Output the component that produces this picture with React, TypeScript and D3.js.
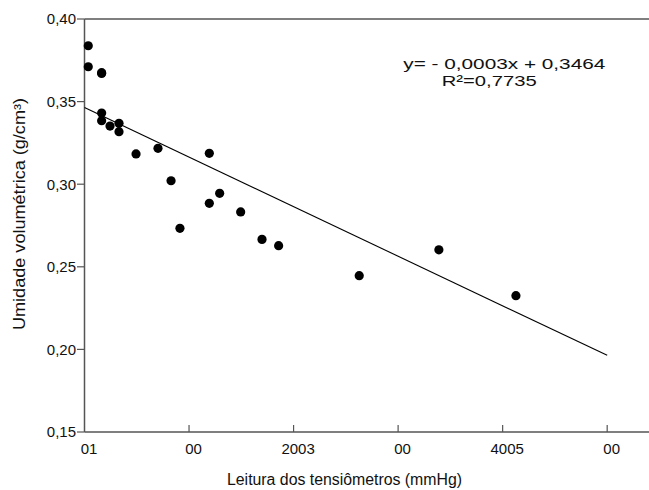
import React, { useEffect, useRef } from 'react';
import * as d3 from 'd3';

// leituras do tensiômetro (mmHg) e umidade volumétrica
const leituras = [3.6, 3.6, 16.4, 16.4, 16.4, 16.4, 24.4, 33, 33, 49.3, 70.3, 82.8, 91.3, 119.4, 119.4, 129.3, 149.4, 169.8, 185.7, 262.8, 339, 412.7];
const umidade = [0.3838, 0.3711, 0.3675, 0.3670, 0.3431, 0.3384, 0.3352, 0.3369, 0.3318, 0.3183, 0.3217, 0.3021, 0.2733, 0.3187, 0.2884, 0.2945, 0.2832, 0.2666, 0.2628, 0.2446, 0.2603, 0.2325];

const xTicks = [0, 100, 200, 300, 400, 500];
const xTickLabels = ['01', '00', '2003', '00', '4005', '00'];
const yTicks = [0.15, 0.2, 0.25, 0.3, 0.35, 0.4];

// y = -0,0003x + 0,3464
const slope = -0.0003;
const intercept = 0.3464;
const fitRange = [0, 500];

const App = () => {
  const ref = useRef<SVGSVGElement>(null);

  useEffect(() => {
    const svg = d3.select(ref.current);
    svg.selectAll('*').remove();

    const font = 'Arial, "Liberation Sans", sans-serif';
    const x = d3.scaleLinear().domain([0, 540]).range([84.5, 649]);
    const y = d3.scaleLinear().domain([0.15, 0.4]).range([432, 19]);
    const axisColor = '#555';

    // frame: left, top, bottom
    svg.append('line').attr('x1', 84.5).attr('x2', 84.5).attr('y1', 19).attr('y2', 432)
      .attr('stroke', axisColor).attr('stroke-width', 1.5);
    svg.append('line').attr('x1', 84.5).attr('x2', 649).attr('y1', 19).attr('y2', 19)
      .attr('stroke', axisColor).attr('stroke-width', 1.5);
    svg.append('line').attr('x1', 84.5).attr('x2', 649).attr('y1', 432).attr('y2', 432)
      .attr('stroke', axisColor).attr('stroke-width', 1.5);

    // y ticks (outward)
    const fmt = (v: number) => v.toFixed(2).replace('.', ',');
    yTicks.forEach((t) => {
      svg.append('line').attr('x1', 77).attr('x2', 84.5).attr('y1', y(t)).attr('y2', y(t))
        .attr('stroke', axisColor).attr('stroke-width', 1.2);
      svg.append('text').attr('x', 76).attr('y', y(t)).attr('dy', '0.36em')
        .attr('text-anchor', 'end').style('font-family', font).style('font-size', '15px')
        .attr('fill', '#111').text(fmt(t));
    });

    // x ticks (inward)
    xTicks.forEach((t, i) => {
      if (i > 0) {
        svg.append('line').attr('x1', x(t)).attr('x2', x(t)).attr('y1', 425).attr('y2', 432)
          .attr('stroke', axisColor).attr('stroke-width', 1.2);
      }
      svg.append('text').attr('x', x(t) + 4.5).attr('y', 454)
        .attr('text-anchor', 'middle').style('font-family', font).style('font-size', '15px')
        .attr('fill', '#111').text(xTickLabels[i]);
    });

    // regression line
    svg.append('line')
      .attr('x1', x(fitRange[0])).attr('y1', y(slope * fitRange[0] + intercept))
      .attr('x2', x(fitRange[1])).attr('y2', y(slope * fitRange[1] + intercept))
      .attr('stroke', '#000').attr('stroke-width', 1.1);

    // points
    svg.selectAll('circle.pt')
      .data(leituras.map((l, i) => ({ l, u: umidade[i] })))
      .enter()
      .append('circle')
      .attr('class', 'pt')
      .attr('cx', (d) => x(d.l))
      .attr('cy', (d) => y(d.u))
      .attr('r', 4.6)
      .attr('fill', '#000');

    // equation
    svg.append('text').attr('x', 403.3).attr('y', 69).attr('textLength', 202)
      .attr('lengthAdjust', 'spacingAndGlyphs')
      .style('font-family', font).style('font-size', '15.5px').attr('fill', '#111')
      .text('y= - 0,0003x + 0,3464');
    svg.append('text').attr('x', 441.7).attr('y', 86).attr('textLength', 95)
      .attr('lengthAdjust', 'spacingAndGlyphs')
      .style('font-family', font).style('font-size', '15.5px').attr('fill', '#111')
      .text('R²=0,7735');

    // axis titles
    svg.append('text').attr('x', 344.5).attr('y', 485).attr('text-anchor', 'middle')
      .attr('textLength', 235).attr('lengthAdjust', 'spacingAndGlyphs')
      .style('font-family', font).style('font-size', '16px').attr('fill', '#111')
      .text('Leitura dos tensiômetros (mmHg)');
    svg.append('text').attr('transform', 'translate(25,214) rotate(-90)').attr('text-anchor', 'middle')
      .attr('textLength', 232).attr('lengthAdjust', 'spacingAndGlyphs')
      .style('font-family', font).style('font-size', '16px').attr('fill', '#111')
      .text('Umidade volumétrica (g/cm³)');
  }, []);

  return (
    <svg
      ref={ref}
      width={649}
      height={490}
      style={{ position: 'absolute', left: 0, top: 0, background: '#fff' }}
    />
  );
};

export default App;
